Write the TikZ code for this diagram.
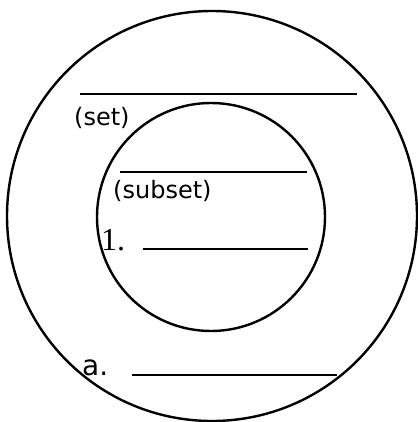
\documentclass[tikz,border=0pt]{standalone}
\usepackage{fontspec}
\setmainfont{Liberation Serif}
\newfontfamily\labsans{DejaVu Sans}
\begin{document}
\begin{tikzpicture}[x=1pt,y=-1pt,
  ring/.style={draw=black,line width=2.4pt},
  blank/.style={draw=black,line width=1.3pt},
  lab/.style={anchor=base west,inner sep=0pt,font=\labsans\fontsize{24}{28}\selectfont},
  num/.style={anchor=base west,inner sep=0pt,font=\fontsize{32}{34}\selectfont}]
\useasboundingbox (0,0) rectangle (417,422);
\node[ring,circle,minimum size=410pt,inner sep=0pt] (outer) at (212,216) {};
\node[ring,circle,minimum size=228pt,inner sep=0pt] (inner) at (211,217) {};
\coordinate (s1) at (80,94); \coordinate (s2) at (357,94);
\draw[blank] (s1) -- (s2);
\node[lab] (set) at (74,126) {(set)};
\coordinate (u1) at (120,172); \coordinate (u2) at (307,172);
\draw[blank] (u1) -- (u2);
\node[lab] (subset) at (113,198) {(subset)};
\node[num] (one) at (101,250) {1.};
\coordinate (n1) at (143,249); \coordinate (n2) at (308,249);
\draw[blank] (n1) -- (n2);
\node[lab,font=\labsans\fontsize{28}{32}\selectfont] (a) at (82,375) {a.};
\coordinate (a1) at (132,375); \coordinate (a2) at (337,375);
\draw[blank] (a1) -- (a2);
\end{tikzpicture}
\end{document}
